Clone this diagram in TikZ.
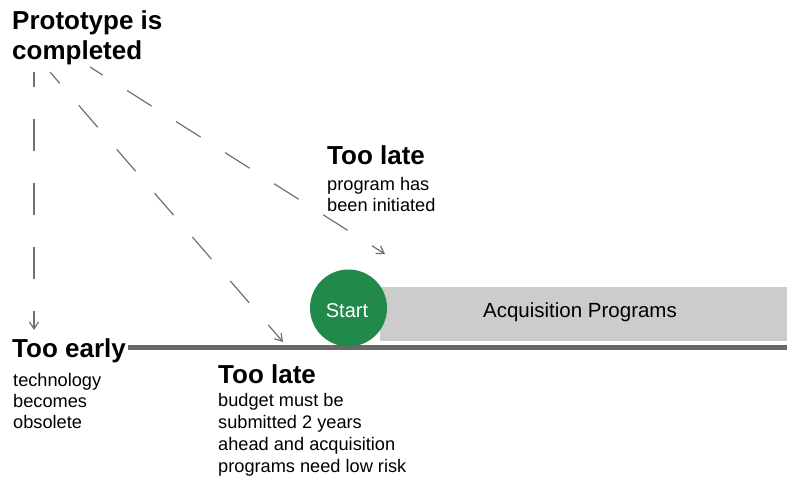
\documentclass[tikz,border=0pt]{standalone}
\usepackage{fontspec}
\setmainfont{Liberation Sans}
\usetikzlibrary{arrows.meta}
\definecolor{startgreen}{HTML}{21894A}
\definecolor{bandgray}{HTML}{CCCCCC}
\definecolor{bargray}{HTML}{686868}
\definecolor{dashgray}{HTML}{707070}
\tikzset{
  head/.style={font=\fontsize{26}{30}\selectfont\bfseries, inner sep=0pt, anchor=base west},
  body/.style={font=\fontsize{18.2}{21}\selectfont, inner sep=0pt, anchor=base west},
  dasharrow/.style={draw=dashgray, line width=1.2pt, -{Straight Barb[length=7pt,width=9pt]}},
}
\begin{document}
\begin{tikzpicture}[x=1pt,y=-1pt]
\useasboundingbox (0,0) rectangle (787,477);
% band and bar
\fill[bandgray] (380,287) rectangle (787,341);
\node[font=\fontsize{20.5}{24}\selectfont, anchor=base, inner sep=0pt] (acq) at (580,317) {Acquisition Programs};
\coordinate (barL) at (128,347.5);
\coordinate (barR) at (787,347.5);
\draw[bargray, line width=5pt] (barL) -- (barR);
\node[circle, fill=startgreen, minimum size=77pt, inner sep=0pt] (start) at (348.5,308) {};
\node[font=\fontsize{20}{24}\selectfont, text=white, anchor=base, inner sep=0pt] (starttxt) at (347,317) {Start};
% title
\node[head] (t1) at (12,29) {Prototype is};
\node[head] (t2) at (12,59) {completed};
% too early
\node[head] (early) at (12,357) {Too early};
\node[body] (e1) at (13,386) {technology};
\node[body] (e2) at (13,407) {becomes};
\node[body] (e3) at (13,428) {obsolete};
% too late top
\node[head] (lateA) at (327,164) {Too late};
\node[body] (a1) at (327,190) {program has};
\node[body] (a2) at (327,211) {been initiated};
% too late bottom
\node[head] (lateB) at (218,383) {Too late};
\node[body] (b1) at (218,406) {budget must be};
\node[body] (b2) at (218,428) {submitted 2 years};
\node[body] (b3) at (218,450) {ahead and acquisition};
\node[body] (b4) at (218,472) {programs need low risk};
% dashed arrows
\coordinate (s1) at (34,72);
\coordinate (d1) at (34,330);
\coordinate (s2) at (50,72);
\coordinate (d2) at (283,342);
\coordinate (s3) at (90,67);
\coordinate (d3) at (385,254);
\draw[dasharrow, dash pattern=on 32pt off 32pt, dash phase=17pt] (s1) -- (d1);
\draw[dasharrow, dash pattern=on 29pt off 29pt, dash phase=14pt] (s2) -- (d2);
\draw[dasharrow, dash pattern=on 29pt off 29pt, dash phase=14pt] (s3) -- (d3);
\end{tikzpicture}
\end{document}
